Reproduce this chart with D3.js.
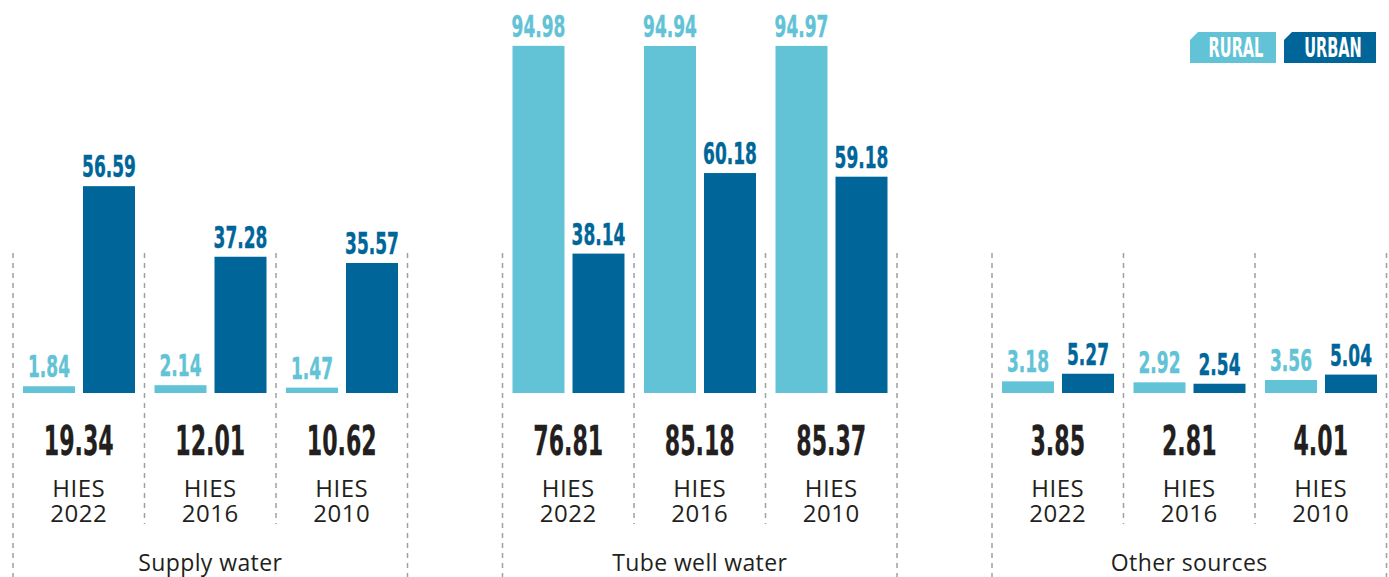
<!DOCTYPE html>
<html>
<head>
<meta charset="utf-8">
<script src="https://cdn.jsdelivr.net/npm/d3@7"></script>
<style>
  body { margin: 0; background: #fff; }
  .num { font-family: 'DejaVu Sans Condensed', 'DejaVu Sans', sans-serif; font-weight: bold; }
  .lbl { font-family: 'Open Sans', 'Lato', sans-serif; fill: #231f20; }
</style>
</head>
<body>
<div id="chart"></div>
<script>
const groups = ['Supply water', 'Tube well water', 'Other sources']
const years = ['2022', '2016', '2010']
const rural = [[1.84, 2.14, 1.47], [94.98, 94.94, 94.97], [3.18, 2.92, 3.56]]
const urban = [[56.59, 37.28, 35.57], [38.14, 60.18, 59.18], [5.27, 2.54, 5.04]]
const totals = [[19.34, 12.01, 10.62], [76.81, 85.18, 85.37], [3.85, 2.81, 4.01]]
const series = ['RURAL', 'URBAN']
const colors = { RURAL: '#62c3d6', URBAN: '#006699' }

const W = 1389, H = 577
const base = 393

const svg = d3.select('#chart').append('svg')
  .attr('width', W).attr('height', H)

const xg = d3.scaleBand().domain(groups).range([13, 1386.5]).paddingInner(95 / 489.5).paddingOuter(0)
const xy = d3.scaleBand().domain(years).range([0, xg.bandwidth()]).padding(0)
const xs = d3.scaleBand().domain(series).range([10, 122]).paddingInner(8 / 60).paddingOuter(0)
const y = d3.scaleLinear().domain([0, 100]).range([base, base - 365.5])

// squeeze the text sideways, no condensed bold face is installed
function numText(sel, x, yy, txt, size, fill, sx, sw) {
  sel.append('text')
    .attr('class', 'num')
    .attr('transform', 'translate(' + x + ',' + yy + ') scale(' + sx + ',1)')
    .attr('text-anchor', 'middle')
    .style('font-size', size + 'px')
    .style('fill', fill)
    .style('stroke', fill)
    .style('stroke-width', sw)
    .text(txt)
}

groups.forEach(function (g, gi) {
  const g0 = xg(g)
  const gsel = svg.append('g').attr('transform', 'translate(' + g0 + ',0)')

  d3.range(years.length + 1).forEach(function (i) {
    const outer = (i === 0 || i === years.length)
    gsel.append('line')
      .attr('x1', i * xy.step()).attr('x2', i * xy.step())
      .attr('y1', 253).attr('y2', outer ? 577 : 524)
      .attr('stroke', '#a0a0a0')
      .attr('stroke-width', 1.5)
      .attr('stroke-dasharray', '5,5')
  })

  years.forEach(function (yr, yi) {
    const c0 = xy(yr)
    const vals = { RURAL: rural[gi][yi], URBAN: urban[gi][yi] }
    series.forEach(function (s) {
      const v = vals[s]
      gsel.append('rect')
        .attr('x', c0 + xs(s))
        .attr('y', y(v))
        .attr('width', xs.bandwidth())
        .attr('height', base - y(v))
        .attr('fill', colors[s])
      numText(gsel, c0 + xs(s) + xs.bandwidth() / 2, y(v) - 9, v.toFixed(2), 30, colors[s], 0.63, 0.4)
    })
    const cx = c0 + xy.bandwidth() / 2
    numText(gsel, cx, 455, totals[gi][yi].toFixed(2), 41, '#231f20', 0.6, 0.3)
    const t = gsel.append('text').attr('class', 'lbl')
      .attr('text-anchor', 'middle')
      .style('font-size', '24px')
      .style('letter-spacing', '0.5px')
    t.append('tspan').attr('x', cx).attr('y', 497).text('HIES')
    t.append('tspan').attr('x', cx).attr('dy', 25).text(yr)
  })

  gsel.append('text').attr('class', 'lbl')
    .attr('x', xg.bandwidth() / 2).attr('y', 571)
    .attr('text-anchor', 'middle')
    .style('font-size', '23px')
    .style('letter-spacing', '0.4px')
    .text(g)
})

// legend
const legX = [1190, 1284], legW = [86, 92]
series.forEach(function (s, i) {
  const x0 = legX[i], y0 = 32, w = legW[i], h = 31, c = 8
  svg.append('path')
    .attr('d', 'M' + (x0 + c) + ',' + y0 + 'H' + (x0 + w) + 'V' + (y0 + h) + 'H' + x0 + 'V' + (y0 + c) + 'Z')
    .attr('fill', colors[s])
  numText(svg, x0 + w / 2 + 3, y0 + 25, s, 27, '#fff', 0.6, 0)
})
</script>
</body>
</html>
